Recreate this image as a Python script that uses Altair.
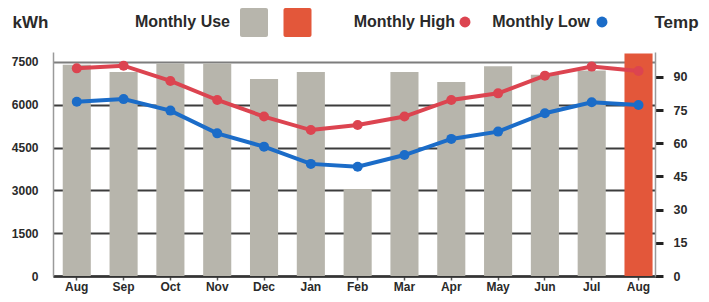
import altair as alt
import pandas as pd

months = ["Aug", "Sep", "Oct", "Nov", "Dec", "Jan", "Feb", "Mar", "Apr", "May", "Jun", "Jul", "Aug"]
use_kwh = [7400, 7150, 7450, 7450, 6900, 7150, 3050, 7150, 6800, 7350, 7050, 7200, 7800]
high_f = [93.9, 95.1, 88.2, 79.6, 72.1, 66.0, 68.3, 72.1, 79.6, 82.6, 90.6, 94.7, 92.7]
low_f = [78.8, 80.0, 74.8, 64.5, 58.5, 50.7, 49.4, 54.7, 62.0, 65.3, 73.6, 78.6, 77.3]
period = ["past"] * 12 + ["current"]
kwh_ticks = [0, 1500, 3000, 4500, 6000, 7500]
temp_ticks = [0, 15, 30, 45, 60, 75, 90]

ids = [f"{m}|{i}" for i, m in enumerate(months)]

GRAY = "#b7b5ac"
RED_BAR = "#e3573a"
RED_LINE = "#dc4450"
BLUE = "#1b6cc8"
TXT = "#2a2a2a"
FONT = "Liberation Sans, Arial, sans-serif"

df = pd.DataFrame({"id": ids, "use": use_kwh, "period": period})
long = pd.DataFrame({
    "id": ids + ids,
    "series": ["high"] * len(ids) + ["low"] * len(ids),
    "temp": high_f + low_f,
})

x_enc = alt.X(
    "id:N",
    sort=ids,
    scale=alt.Scale(paddingInner=0.4, paddingOuter=0.13, align=0.8),
    axis=alt.Axis(
        title=None,
        labelExpr="split(datum.label, '|')[0]",
        labelAngle=0,
        labelFont=FONT,
        labelFontSize=12,
        labelFontWeight="bold",
        labelColor=TXT,
        labelPadding=1,
        labelBaseline="top",
        domainColor="#333333",
        domainWidth=2.5,
        tickColor="#555555",
        tickSize=4,
        tickWidth=1.5,
        grid=False,
    ),
)

bars = alt.Chart(df).mark_bar().encode(
    x=x_enc,
    y=alt.Y(
        "use:Q",
        scale=alt.Scale(domain=[0, 7850], nice=False),
        axis=alt.Axis(
            orient="left",
            values=kwh_ticks,
            format="d",
            title="kWh",
            titleAngle=0,
            titleX=-23,
            titleY=-30,
            titleAlign="center",
            titleBaseline="middle",
            titleFont=FONT,
            titleFontSize=17,
            titleFontWeight="bold",
            titleColor=TXT,
            grid=True,
            gridColor={"condition": {"test": "datum.value === 7500", "value": "#7d7d7d"}, "value": "#3c3c3c"},
            gridWidth=2,
            domainColor="#9a9a9a",
            domainWidth=1.5,
            ticks=False,
            labelPadding=15,
            labelFont=FONT,
            labelFontSize=12,
            labelFontWeight="bold",
            labelColor=TXT,
        ),
    ),
    color=alt.Color("period:N", scale=alt.Scale(domain=["past", "current"], range=[GRAY, RED_BAR]), legend=None),
)

lines = alt.Chart(long).mark_line(
    strokeWidth=4,
    point=alt.OverlayMarkDef(size=100, filled=True, opacity=1),
).encode(
    x=x_enc,
    y=alt.Y(
        "temp:Q",
        scale=alt.Scale(domain=[0, 101.3], nice=False),
        axis=alt.Axis(
            orient="right",
            values=temp_ticks,
            format="d",
            title="Temp",
            titleAngle=0,
            titleX=21,
            titleY=-30,
            titleAlign="center",
            titleBaseline="middle",
            titleFont=FONT,
            titleFontSize=17,
            titleFontWeight="bold",
            titleColor=TXT,
            grid=False,
            domainColor="#9a9a9a",
            domainWidth=1.5,
            tickColor="#222222",
            tickSize=8,
            tickWidth=3,
            labelPadding=10,
            labelFont=FONT,
            labelFontSize=12.5,
            labelFontWeight="bold",
            labelColor=TXT,
        ),
    ),
    color=alt.Color("series:N", scale=alt.Scale(domain=["high", "low"], range=[RED_LINE, BLUE]), legend=None),
)

one = pd.DataFrame({"k": [0]})


def legend_text(label, right_x):
    return alt.Chart(pd.DataFrame({"t": [label]})).mark_text(
        align="right", baseline="middle", font=FONT, fontSize=16, fontWeight="bold", color=TXT
    ).encode(text="t:N", x=alt.value(right_x), y=alt.value(-30))


def legend_box(cx, color):
    return alt.Chart(one).mark_rect(color=color, cornerRadius=2).encode(
        x=alt.value(cx - 14), x2=alt.value(cx + 14), y=alt.value(-44), y2=alt.value(-15)
    )


def legend_dot(cx, color):
    return alt.Chart(one).mark_point(filled=True, size=120, opacity=1, color=color).encode(
        x=alt.value(cx), y=alt.value(-30)
    )


legend = [
    legend_text("Monthly Use", 177),
    legend_box(201, GRAY),
    legend_box(244.5, RED_BAR),
    legend_text("Monthly High", 402),
    legend_dot(412, RED_LINE),
    legend_text("Monthly Low", 537),
    legend_dot(549, BLUE),
]

chart = alt.layer(bars, lines, *legend).resolve_scale(y="independent", color="independent").properties(
    width=602,
    height=224,
    padding={"left": 45, "top": 44, "right": 46, "bottom": 18},
    autosize=alt.AutoSizeParams(type="none"),
    background="white",
).configure_view(stroke=None)

chart.save("out.html", embed_options={"renderer": "svg", "actions": False})
